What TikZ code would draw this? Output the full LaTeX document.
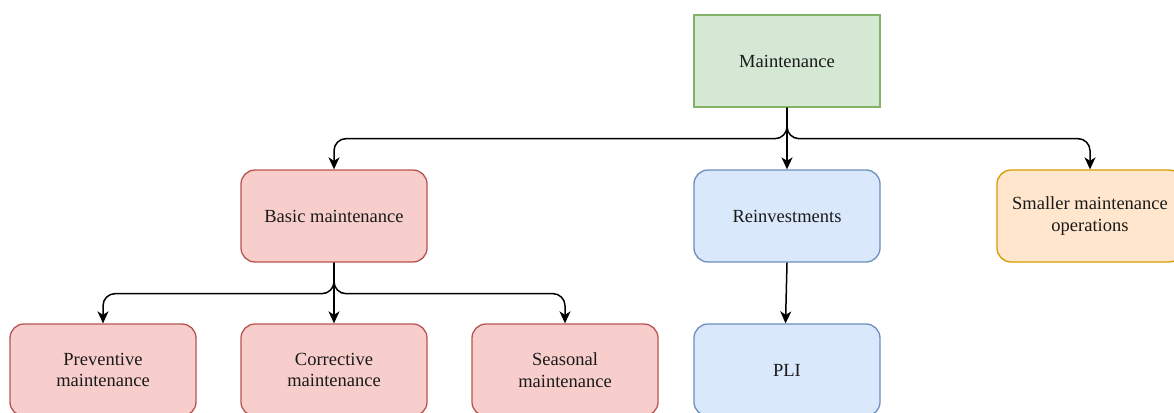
\documentclass[tikz,border=0pt]{standalone}
\usepackage{fontspec}
\setmainfont{Liberation Serif}
\usetikzlibrary{arrows.meta}

\definecolor{greenfill}{HTML}{D5E8D4}
\definecolor{greenline}{HTML}{82B366}
\definecolor{redfill}{HTML}{F8CECC}
\definecolor{redline}{HTML}{B85450}
\definecolor{bluefill}{HTML}{DAE8FC}
\definecolor{blueline}{HTML}{6C8EBF}
\definecolor{orangefill}{HTML}{FFE6CC}
\definecolor{orangeline}{HTML}{D79B00}
\definecolor{labeltext}{HTML}{1A1A1A}

\tikzset{
  box/.style={draw, line width=1.3pt, minimum width=186pt, minimum height=92pt,
    inner sep=0pt, align=center, text=labeltext,
    font=\fontsize{18.5}{21.5}\selectfont},
  roundbox/.style={box, rounded corners=14pt},
  greenbox/.style={box, fill=greenfill, draw=greenline},
  redbox/.style={roundbox, fill=redfill, draw=redline},
  bluebox/.style={roundbox, fill=bluefill, draw=blueline},
  orangebox/.style={roundbox, fill=orangefill, draw=orangeline},
  edge/.style={draw=black, line width=1.5pt, rounded corners=12pt,
    -{Stealth[length=12pt, width=11pt, inset=3.5pt]}},
}

\begin{document}
\begin{tikzpicture}[x=1pt, y=-1pt]
  \useasboundingbox (0,0) rectangle (1174,412);
  \clip (0,0) rectangle (1174,412);

  % top level
  \node[greenbox] (maint) at (787,61) {Maintenance};

  % second level
  \node[redbox]    (basic) at (334,216)  {Basic maintenance};
  \node[bluebox]   (reinv) at (787,216)  {Reinvestments};
  \node[orangebox] (small) at (1090,216) {Smaller maintenance\\operations};

  % third level
  \node[redbox]  (prev) at (103,370) {Preventive\\maintenance};
  \node[redbox]  (corr) at (334,370) {Corrective\\maintenance};
  \node[redbox]  (seas) at (565,370) {Seasonal\\maintenance};
  \node[bluebox] (pli)  at (787,370) {PLI};

  % connectors from Maintenance
  \draw[edge] (maint.south) -- ++(0,31) -| (basic.north);
  \draw[edge] (maint.south) -- (reinv.north);
  \draw[edge] (maint.south) -- ++(0,31) -| (small.north);

  % connectors from Basic maintenance
  \draw[edge] (basic.south) -- ++(0,31) -| (prev.north);
  \draw[edge] (basic.south) -- (corr.north);
  \draw[edge] (basic.south) -- ++(0,31) -| (seas.north);

  % Reinvestments to PLI
  \draw[edge] (reinv.south) -- ([xshift=-1.5pt]pli.north);
\end{tikzpicture}
\end{document}
